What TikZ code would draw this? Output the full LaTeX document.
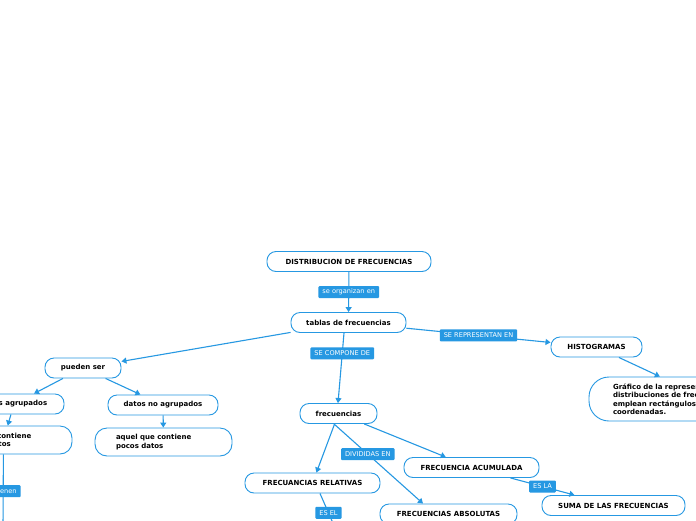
\documentclass[tikz,border=0pt]{standalone}
\usepackage{fontspec}
\setmainfont{DejaVu Sans}
\usetikzlibrary{arrows.meta}
\definecolor{mblue}{RGB}{38,152,226}
\begin{document}
\begin{tikzpicture}[x=1pt,y=-1pt,
 box/.style={draw=mblue, line width=0.9pt, rounded corners=9pt, fill=white, minimum height=20pt, inner sep=0pt, font=\bfseries\fontsize{7}{8.5}\selectfont, text=black},
 box2/.style={box, align=left, inner xsep=21pt, inner ysep=0pt, minimum height=28pt, rounded corners=12pt},
 lbl/.style={fill=mblue, text=white, font=\fontsize{6.6}{7}\selectfont, inner xsep=4pt, inner ysep=0pt, minimum height=12pt, rounded corners=1pt},
 conn/.style={draw=mblue, line width=1.1pt, -{Triangle[length=5pt,width=6pt]}},
 plain/.style={draw=mblue, line width=1.1pt}]
\useasboundingbox (0,0) rectangle (696,520);
\clip (0,0) rectangle (696,520);
\fill[white] (0,0) rectangle (696,520);

\node[box, minimum width=164pt] (dist) at (349,261.5) {DISTRIBUCION DE FRECUENCIAS};
\node[box, minimum width=115pt] (tablas) at (348.5,322.5) {tablas de frecuencias};
\node[box, minimum width=76pt] (pueden) at (83,368) {pueden ser};
\node[box, minimum width=100pt] (da) at (14,404) {datos agrupados};
\node[box, minimum width=110pt] (dna) at (163,405) {datos no agrupados};
\node[box2, text width=95pt] (pocos) at (163.5,442) {aquel que contiene\\pocos datos};
\node[box2, text width=95pt] (muchos) at (3.5,440) {aquel que contiene\\muchos datos};
\node[box, minimum width=77pt] (frec) at (338.5,413.5) {frecuencias};
\node[box, minimum width=135pt] (relat) at (312.5,483) {FRECUANCIAS RELATIVAS};
\node[box, minimum width=137pt] (absol) at (448.5,514) {FRECUENCIAS ABSOLUTAS};
\node[box, minimum width=135pt] (acum) at (471.5,467.5) {FRECUENCIA ACUMULADA};
\node[box, minimum width=143pt] (suma) at (613.5,505.5) {SUMA DE LAS FRECUENCIAS};
\node[box, minimum width=91pt] (hist) at (596.5,347) {HISTOGRAMAS};
\node[box, align=left, text width=190pt, inner xsep=24pt, minimum height=44pt, rounded corners=20pt] (graf) at (708,399)
 {Gráfico de la representación de\\distribuciones de frecuencias, en el que se\\emplean rectángulos dentro de unas\\coordenadas.};

\coordinate (t1) at (3,528);
\coordinate (e1) at (336,530);

\draw[conn] (dist) -- node[lbl]{se organizan en} (tablas);
\draw[conn] (tablas) -- (pueden);
\draw[conn] ([xshift=-4.5pt]tablas.south) -- node[lbl, pos=0.29]{SE COMPONE DE} ([xshift=-0.5pt]frec.north);
\draw[conn] (tablas) -- node[lbl]{SE REPRESENTAN EN} (hist);
\draw[conn] (hist) -- (graf);
\draw[conn] (pueden) -- (da);
\draw[conn] (pueden) -- (dna);
\draw[conn] (dna) -- (pocos);
\draw[conn] (da) -- (muchos);
\draw[plain] (muchos) -- node[lbl, xshift=3pt]{tienen} (t1);
\draw[conn] (frec) -- (relat);
\draw[conn] ([xshift=-4.5pt]frec.south) -- node[lbl, pos=0.38]{DIVIDIDAS EN} ([xshift=-25.5pt]absol.north);
\draw[conn] (frec) -- (acum);
\draw[conn] (acum) -- node[lbl]{ES LA} (suma);
\draw[plain] ([xshift=7.5pt]relat.south) -- node[lbl, pos=0.53]{ES EL} (e1);
\end{tikzpicture}
\end{document}
